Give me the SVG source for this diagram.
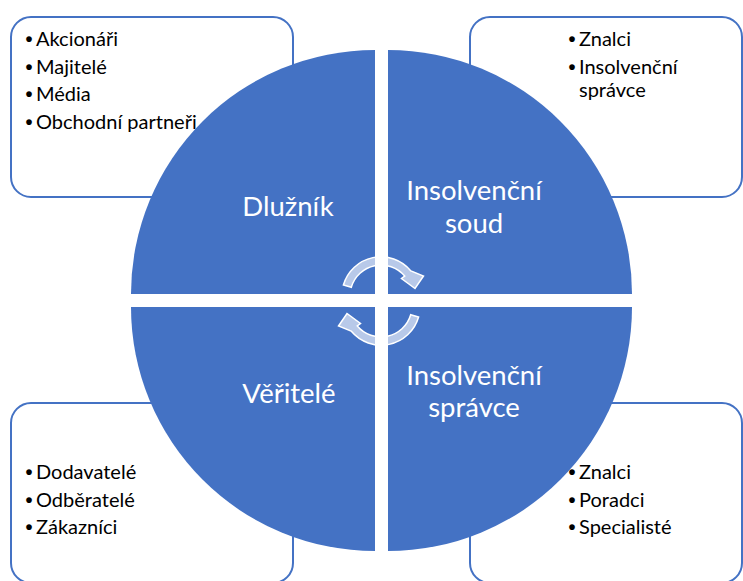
<svg xmlns="http://www.w3.org/2000/svg" width="743" height="581" viewBox="0 0 743 581">
  <style>
    .box { fill: #FFFFFF; stroke: #4472C4; stroke-width: 2; }
    .quad { fill: #4472C4; }
    .item { font-family: Lato, "Liberation Sans", sans-serif; font-size: 20px; fill: #000000; }
    .bullet { font-family: "Liberation Sans", sans-serif; font-size: 20px; font-weight: bold; fill: #000000; }
    .label { font-family: Lato, "Liberation Sans", sans-serif; font-size: 27.5px; fill: #FFFFFF; text-anchor: middle; }
    .arrow { fill: #FFFFFF; fill-opacity: 0.62; stroke: #FFFFFF; stroke-width: 1.5; stroke-linejoin: miter; }
  </style>
  <defs>
    <path id="circArrow" d="M343.4,285.0 A39,39 0 0,1 410.9,270.9 L423.5,276 L415,288.5 L401.5,278.5 L404.7,276.1 A31,31 0 0,0 351.3,287.3 Z"/>
  </defs>

  <rect width="743" height="581" fill="#FFFFFF"/>

  <!-- Side boxes (behind the circle) -->
  <g id="box-dluznik">
    <rect class="box" x="11" y="17" width="282" height="180" rx="20" ry="20"/>
    <text class="bullet" x="25.5" y="46">•</text><text class="item" x="36" y="46">Akcionáři</text>
    <text class="bullet" x="25.5" y="73.5">•</text><text class="item" x="36" y="73.5">Majitelé</text>
    <text class="bullet" x="25.5" y="101">•</text><text class="item" x="36" y="101">Média</text>
    <text class="bullet" x="25.5" y="128.5">•</text><text class="item" x="36" y="128.5">Obchodní partneři</text>
  </g>
  <g id="box-soud">
    <rect class="box" x="470" y="17" width="272" height="180" rx="20" ry="20"/>
    <text class="bullet" x="568.5" y="46">•</text><text class="item" x="579" y="46">Znalci</text>
    <text class="bullet" x="568.5" y="73.5">•</text><text class="item" x="579" y="73.5">Insolvenční</text>
    <text class="item" x="579" y="97">správce</text>
  </g>
  <g id="box-veritele">
    <rect class="box" x="11" y="403" width="282" height="180" rx="20" ry="20"/>
    <text class="bullet" x="25.5" y="479">•</text><text class="item" x="36" y="479">Dodavatelé</text>
    <text class="bullet" x="25.5" y="506.5">•</text><text class="item" x="36" y="506.5">Odběratelé</text>
    <text class="bullet" x="25.5" y="533.5">•</text><text class="item" x="36" y="533.5">Zákazníci</text>
  </g>
  <g id="box-spravce">
    <rect class="box" x="470" y="403" width="272" height="180" rx="20" ry="20"/>
    <text class="bullet" x="568.5" y="479">•</text><text class="item" x="579" y="479">Znalci</text>
    <text class="bullet" x="568.5" y="506.5">•</text><text class="item" x="579" y="506.5">Poradci</text>
    <text class="bullet" x="568.5" y="533.5">•</text><text class="item" x="579" y="533.5">Specialisté</text>
  </g>

  <!-- Quadrants -->
  <g id="q-dluznik">
    <path class="quad" d="M375,294 L131,294 A244,244 0 0,1 375,50 Z"/>
    <text class="label" x="288" y="216">Dlužník</text>
  </g>
  <g id="q-soud">
    <path class="quad" d="M388,294 L388,50 A244,244 0 0,1 632,294 Z"/>
    <text class="label" x="474" y="200">Insolvenční</text>
    <text class="label" x="474" y="233">soud</text>
  </g>
  <g id="q-veritele">
    <path class="quad" d="M375,307 L375,551 A244,244 0 0,1 131,307 Z"/>
    <text class="label" x="289" y="403">Věřitelé</text>
  </g>
  <g id="q-spravce">
    <path class="quad" d="M388,307 L632,307 A244,244 0 0,1 388,551 Z"/>
    <text class="label" x="474" y="385">Insolvenční</text>
    <text class="label" x="474" y="417">správce</text>
  </g>

  <!-- Circular arrows -->
  <g id="connectors">
    <use href="#circArrow" class="arrow"/>
    <use href="#circArrow" class="arrow" transform="rotate(180 381 301)"/>
  </g>
</svg>
